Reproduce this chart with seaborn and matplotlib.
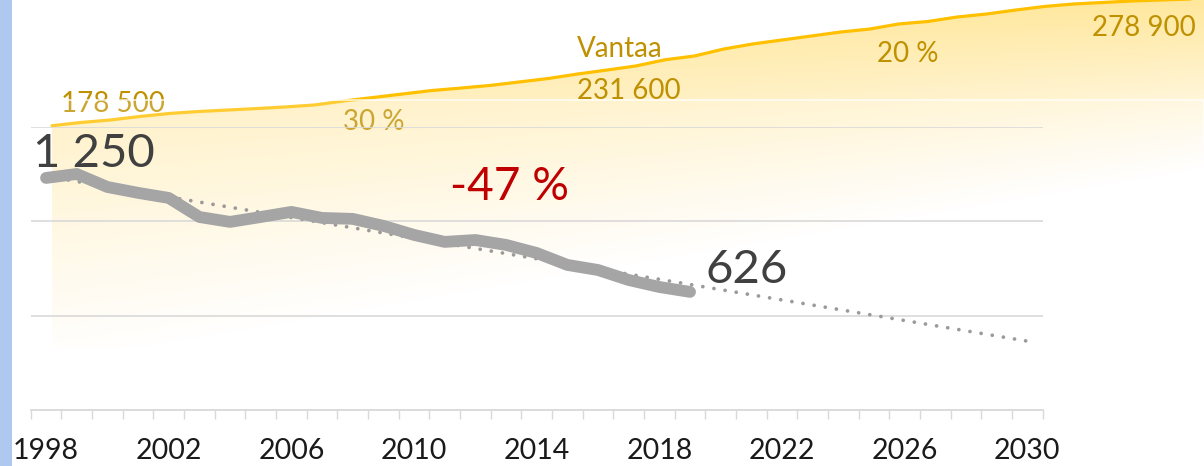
import numpy as np
import pandas as pd
import seaborn as sns
import matplotlib.pyplot as plt
from matplotlib.patches import Rectangle

# ---------------- data ----------------
years = list(range(1998, 2020))
values = [1230, 1251, 1182, 1151, 1124, 1023, 997, 1023, 1050, 1018, 1013,
          976, 928, 891, 901, 875, 832, 769, 742, 689, 652, 626]
trend_years = list(range(1998, 2031))

pop_years = list(range(1998, 2039))
population = [178500, 181100, 183100, 185900, 188300, 189900, 191100, 192300,
              193600, 195200, 198400, 201200, 204000, 206800, 208800, 210900,
              213700, 216500, 220100, 223300, 226600, 231600, 234600, 240200,
              244300, 247500, 250700, 253900, 256300, 260400, 262400, 266000,
              268400, 271600, 274500, 276500, 277700, 278900, 279700, 280500,
              281300]

label_years = [1998, 2002, 2006, 2010, 2014, 2018, 2022, 2026, 2030]
grid_values = [500, 1000, 1500]

start_label = "1 250"
end_label = "626"
change_label = "-47 %"
pop_labels = ["178 500", "Vantaa", "231 600", "30 %", "20 %", "278 900"]

# ---------------- style ----------------
sns.set_style("white")
plt.rcParams['font.family'] = ['Lato', 'DejaVu Sans']

W, H = 1204, 466
fig = plt.figure(figsize=(W / 100, H / 100), dpi=100)
fig.patch.set_facecolor("white")

def fx(px):
    return px / W

def fy(py):
    return 1 - py / H

# left decorative strip (background picture edge)
fig.patches.append(Rectangle((0, 0), fx(12), 1, transform=fig.transFigure,
                             facecolor="#aec8f0", edgecolor="none", zorder=-5))

# ---------------- population (background) chart ----------------
axy = fig.add_axes([0, 0, 1, 1], zorder=0)
axy.set_xlim(1996.219, 2037.452)
axy.set_ylim(-95442, 279689)
axy.axis("off")
axy.patch.set_alpha(0)

pop_df = pd.DataFrame({"year": pop_years, "pop": population})
coll = axy.fill_between(pop_df["year"], 0, pop_df["pop"], facecolor="none",
                        edgecolor="none")
# gradient fill
yy, xx = np.mgrid[0:H, 0:W].astype(float)
y0 = 365 - 0.17 * (xx - 52)
alpha = 0.6 * np.clip(1 - yy / y0, 0, 1) ** 1.1
rgba = np.zeros((H, W, 4))
rgba[..., 0] = 1.0
rgba[..., 1] = 215 / 255
rgba[..., 2] = 90 / 255
rgba[..., 3] = alpha
im = axy.imshow(rgba, extent=[*axy.get_xlim(), *axy.get_ylim()],
                origin="upper", aspect="auto", zorder=1)
im.set_clip_path(coll.get_paths()[0], axy.transData)
axy.set_xlim(1996.219, 2037.452)
axy.set_ylim(-95442, 279689)

sns.lineplot(data=pop_df, x="year", y="pop", ax=axy, color="#FFC000",
             linewidth=2.3, zorder=3, legend=False)
axy.axis("off")

gold = "#BF9000"
pop_pos = [(61, 112), (577, 57), (577, 99), (343, 130), (877, 62), (1092, 36)]
for s, (px, py) in zip(pop_labels, pop_pos):
    axy.text(fx(px), fy(py), s, transform=fig.transFigure, color=gold,
             fontsize=20, ha="left", va="baseline", zorder=4)

# ---------------- main chart ----------------
ax = fig.add_axes([fx(30.7), 1 - 410 / H, fx(1012), 283 / H], zorder=1)
ax.patch.set_alpha(0)

# translucent chart-area overlay
ax.add_patch(Rectangle((fx(14), 0), fx(W - 14), fy(100), transform=fig.transFigure,
                       facecolor=(1, 1, 1, 0.2), edgecolor=(1, 1, 1, 0.8),
                       linewidth=1.2, clip_on=False, zorder=0))

df = pd.DataFrame({"year": years, "value": values})
coef = np.polyfit(df["year"], df["value"], 1)
tdf = pd.DataFrame({"year": trend_years,
                    "trend": np.polyval(coef, np.array(trend_years))})

sns.lineplot(data=tdf, x="year", y="trend", ax=ax, color="#9a9a9a",
             linewidth=2.7, linestyle=(0, (0.01, 3.0)), dash_capstyle="round",
             zorder=2, legend=False)
sns.lineplot(data=df, x="year", y="value", ax=ax, color="#A5A5A5",
             linewidth=8.5, solid_capstyle="round", solid_joinstyle="round",
             zorder=3, legend=False)

ax.set_xlim(1997.5, 2030.5)
ax.set_ylim(0, 1500)
ax.set_yticks(grid_values)
ax.set_yticklabels([])
ax.tick_params(axis="y", length=0, left=False)
ax.grid(axis="y", color="#d9d9d9", linewidth=1.2, zorder=1)
ax.grid(axis="x", visible=False)
for side in ["left", "right", "top"]:
    ax.spines[side].set_visible(False)
ax.spines["bottom"].set_color("#d9d9d9")
ax.spines["bottom"].set_linewidth(1.3)

ax.set_xticks(np.arange(1997.5, 2031, 1.0))
ax.set_xticklabels([])
ax.tick_params(axis="x", which="major", bottom=True, length=6.5, width=1,
               color="#d9d9d9", direction="out")
ax.set_xticks(label_years, minor=True)
ax.set_xticklabels([str(y) for y in label_years], minor=True)
ax.tick_params(axis="x", which="minor", bottom=True, length=0, pad=20.5,
               labelsize=20.5, labelcolor="#1a1a1a")
ax.set_xlabel("")
ax.set_ylabel("")

ax.text(fx(33), fy(167), start_label, transform=fig.transFigure, fontsize=34,
        color="#404040", ha="left", va="baseline", zorder=5)
ax.text(fx(706), fy(283), end_label, transform=fig.transFigure, fontsize=34,
        color="#404040", ha="left", va="baseline", zorder=5)
ax.text(fx(450), fy(200), change_label, transform=fig.transFigure, fontsize=33,
        color="#C00000", ha="left", va="baseline", zorder=5)

fig.savefig("out.png", dpi=100)
